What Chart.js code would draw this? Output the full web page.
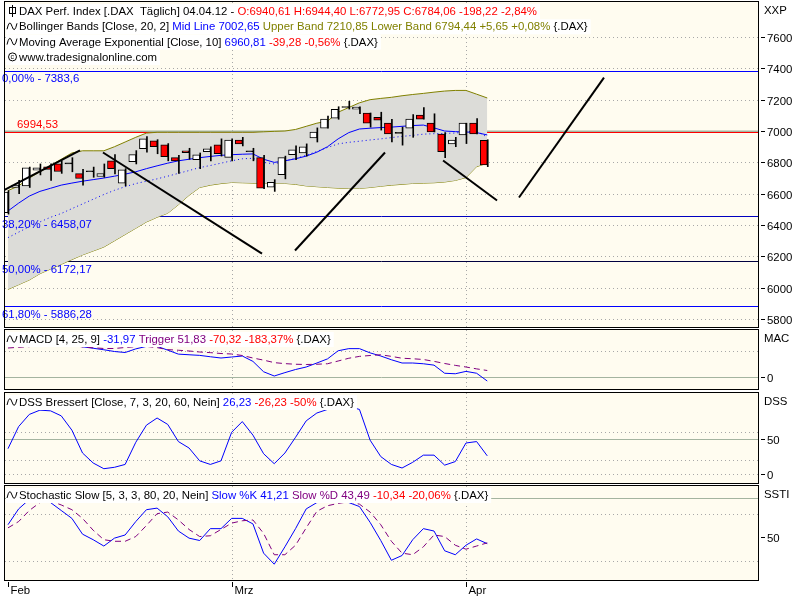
<!DOCTYPE html>
<html><head><meta charset="utf-8">
<script src="https://cdn.jsdelivr.net/npm/chart.js@4"></script>
<style>
html,body{margin:0;padding:0;background:#fff;width:800px;height:600px;overflow:hidden}
canvas{position:absolute;left:0}
</style></head><body>
<canvas id="c1" style="top:0"></canvas>
<canvas id="c2" style="top:328px"></canvas>
<canvas id="c3" style="top:391px"></canvas>
<canvas id="c4" style="top:484px"></canvas>
<script>
const openP=[6480,6640,6650,6750,6772,6790,6790,6728,6740,6710,6810,6668,6805,6888,6937,6912,6830,6874,6818,6868,6912,6832,6943,6868,6830,6642,6722,6849,6861,6956,7019,7082,7150,7140,7114,7088,7050,6985,7019,7101,7050,6981,6918,6975,7050,6940.61];
const highP=[6620,6685,6770,6790,6790,6810,6830,6755,6770,6790,6850,6760,6875,6965,6945,6920,6845,6890,6860,6900,6950,6950,6960,6890,6845,6690,6840,6905,6918,7020,7095,7155,7190,7155,7115,7120,7075,7025,7105,7150,7110,6990,6960,7050,7080,6944.40];
const lowP=[6470,6600,6640,6720,6685,6730,6740,6655,6705,6705,6727,6650,6790,6865,6855,6810,6730,6820,6760,6810,6840,6810,6905,6810,6633,6615,6695,6818,6840,6930,7019,7075,7140,7110,7025,7006,6930,6910,6960,7076,6994,6830,6900,6920,6981,6772.95];
const closeP=[6610,6655,6765,6765,6755,6742,6794,6697,6742,6728,6760,6753,6849,6950,6900,6836,6810,6862,6848,6887,6855,6943,6918,6871,6635,6672,6830,6880,6899,6994,7076,7139,7155,7152,7050,7069,6981,6990,7076,7076,6994,6868,6943,7050,6981,6784.06];
const upperBand=[6620,6650,6700,6740,6780,6820,6860,6874,6874,6874,6900,6930,6960,6987,6992,6992,6992,6992,6992,6992,6992,6992,6992,6992,6995,6998,7000,7010,7030,7050,7063,7120,7150,7180,7200,7208,7215,7225,7233,7240,7248,7255,7259,7259,7235,7210.85];
const lowerBand=[5990,6020,6050,6090,6120,6150,6180,6210,6235,6260,6300,6340,6380,6420,6450,6476,6530,6590,6640,6655,6665,6672,6670,6668,6666,6666,6666,6660,6650,6645,6640,6636,6634,6634,6640,6648,6655,6660,6666,6668,6670,6675,6685,6703,6773,6794.44];
const midLine=[6490,6540,6585,6615,6635,6655,6668,6680,6690,6700,6712,6725,6740,6760,6778,6795,6810,6820,6830,6838,6845,6849,6852,6854,6820,6800,6810,6823,6840,6865,6900,6950,6990,7013,7018,7022,7025,7030,7035,7038,7020,7000,6996,6994,6990,6975];
const emaLine=[6320,6355,6390,6420,6450,6474,6505,6535,6565,6595,6622,6645,6665,6680,6695,6712,6730,6748,6767,6780,6795,6810,6823,6826,6800,6790,6810,6825,6845,6870,6895,6918,6928,6935,6943,6950,6958,6966,6972,6980,6983,6985,6987,6995,7000,6960.81];
const macdLine=[245,272,285,299,299,297,265,242,230,218,204,196,225,245,245,215,183,178,173,162,152,160,168,125,42,8,35,60,80,112,145,210,227,227,193,168,138,112,112,106,95,30,26,45,30,-32];
const triggerLine=[232,238,243,252,262,270,258,240,234,228,228,236,243,245,235,219,214,208,200,195,188,184,172,152,135,115,107,102,100,102,106,128,150,165,172,178,165,150,146,140,125,108,93,80,65,52];
const dssLine=[36,67,84,90,89,82,62,30,16,8,10,14,45,69,79,70,46,37,19,14,19,59,74,55,29,15,30,52,75,86,91,94,95,91,48,25,14,9,17,27,27,13,18,44,46,26];
const slowK=[66,86,98,98,94,84,74,54,47,39,49,53,70,85,87,76,58,49,46,61,61,74,74,67,30,16,38,61,86,94,95,96,94,89,69,46,21,27,47,61,58,33,28,40,48,42];
const slowD=[62,70,84,94,96,91,85,74,59,47,45,45,51,65,80,82,72,60,51,52,60,68,71,72,55,28,28,40,62,83,90,93,95,92,82,66,45,30,28,38,53,51,40,35,39,43];
const priceTicks=[5800,6000,6200,6400,6600,6800,7000,7200,7400,7600];
const fibLevels=[7383.6,6458.07,6172.17,5886.28];
const fibLabels=['0,00% - 7383,6','38,20% - 6458,07','50,00% - 6172,17','61,80% - 5886,28'];
const redLevel=6994.53;
const trendLines=[[[-0.47,6620],[6.76,6876]],[[8.92,6863],[23.85,6218]],[[26.95,6238],[35.4,6863]],[[40.85,6812],[45.92,6557]],[[47.98,6576],[55.96,7341]]];
const monthIdx=[0,21,43];
const monthNames=['Feb','Mrz','Apr'];

const FONT='11.4px "Liberation Sans", Arial, sans-serif';
const CREAM='#FFFCF0';
const GRIDC='#A8A8A8';
const SOLIDC='#A4B4A0';
const X_MIN=-0.28, X_MAX=70.42;

function panelPlugin(cfg){
  return {id:'panel'+Math.random(),
    beforeDraw(ch){
      const c=ch.ctx,a=ch.chartArea;
      c.save();c.fillStyle='#fff';c.fillRect(0,0,ch.width,ch.height);
      c.fillStyle=CREAM;c.fillRect(a.left,a.top,a.right-a.left,a.bottom-a.top);
      const y=ch.scales.y,x=ch.scales.x;
      c.lineWidth=1;
      c.setLineDash([1,3]);c.strokeStyle=GRIDC;
      (cfg.dotted||[]).forEach(v=>{const p=Math.round(y.getPixelForValue(v))+0.5;c.beginPath();c.moveTo(a.left,p);c.lineTo(a.right,p);c.stroke();});
      monthIdx.slice(1).forEach(i=>{const p=Math.round(x.getPixelForValue(i))+0.5;c.beginPath();c.moveTo(p,a.top);c.lineTo(p,a.bottom);c.stroke();});
      c.setLineDash([]);
      (cfg.solid||[]).forEach(s=>{const p=Math.round(y.getPixelForValue(s[0]))+0.5;c.strokeStyle=s[1];c.lineWidth=s[2]||1;c.beginPath();c.moveTo(a.left,p);c.lineTo(a.right,p);c.stroke();});
      c.restore();
    },
    afterDraw(ch){
      const c=ch.ctx,a=ch.chartArea,y=ch.scales.y,x=ch.scales.x;
      c.save();
      c.font=FONT;c.textBaseline='middle';c.fillStyle='#000';c.strokeStyle='#000';c.lineWidth=1;
      (cfg.labels||[]).forEach(v=>{const p=Math.round(y.getPixelForValue(v))+0.5;
        c.beginPath();c.moveTo(a.right+3,p);c.lineTo(a.right+7,p);c.stroke();
        c.fillText(String(v),a.right+9,p+1);});
      if(cfg.title){c.fillText(cfg.title,a.right+6,a.top+9);}
      (cfg.texts||[]).forEach(t=>{c.fillStyle=t[3];c.fillText(t[0],t[1],y.getPixelForValue(t[2])+t[4]);});
      c.strokeStyle='#000';c.strokeRect(a.left-0.5,a.top-0.5,a.right-a.left+1,a.bottom-a.top+1);
      (cfg.legend||[]).forEach((line,li)=>{
        let xx=a.left+14,yy=a.top+9+li*15.3;
        let w=0;line.forEach(s=>w+=c.measureText(s[0]).width);
        c.fillStyle='#fff';c.fillRect(a.left+1,yy-7,w+16,15);
        const icon=cfg.icons?cfg.icons[li]:'wave';
        drawIcon(c,icon,a.left+7,yy);
        line.forEach(s=>{c.fillStyle=s[1];c.fillText(s[0],xx,yy+1);xx+=c.measureText(s[0]).width;});
      });
      if(cfg.months){
        c.fillStyle='#000';c.textBaseline='top';c.strokeStyle='#000';
        monthIdx.forEach((i,k)=>{const p=Math.round(x.getPixelForValue(i))+0.5;
          c.beginPath();c.moveTo(p,a.bottom+2);c.lineTo(p,a.bottom+7);c.stroke();
          c.fillText(monthNames[k],p+2,a.bottom+5);});
      }
      c.restore();
    }};
}
function drawIcon(c,kind,x,y){
  c.save();c.lineWidth=1;c.strokeStyle='#000';
  if(kind==='candle'){c.beginPath();c.moveTo(x+0.5,y-6);c.lineTo(x+0.5,y+6);c.stroke();c.strokeRect(x-2.5,y-3.5,6,6);}
  else if(kind==='copy'){c.beginPath();c.arc(x+0.5,y,4,0,Math.PI*2);c.stroke();c.font='7px sans-serif';c.fillStyle='#000';c.fillText('c',x-1.5,y);}
  else{c.beginPath();c.moveTo(x-5,y+3);c.quadraticCurveTo(x-2.5,y-8,x,y);c.quadraticCurveTo(x+2.5,y+8,x+5,y-3);c.stroke();}
  c.restore();
}
function xScale(){return {type:'linear',min:X_MIN,max:X_MAX,display:false,offset:false,grid:{offset:false}};}
function baseOpts(ymin,ymax,pad){
  return {responsive:false,animation:false,events:[],
    layout:{padding:pad},
    plugins:{legend:{display:false},tooltip:{enabled:false}},
    scales:{x:xScale(),y:{type:'linear',min:ymin,max:ymax,display:false}}};
}
function sizeCanvas(id,h){const e=document.getElementById(id);e.width=800;e.height=h;e.style.width='800px';e.style.height=h+'px';return e;}
const idx=openP.map((_,i)=>i);
function pts(arr){return arr.map((v,i)=>({x:i,y:v}));}
function lineDs(arr,color,dash,w){return {type:'line',data:pts(arr),borderColor:color,borderWidth:w||1,borderDash:dash||[],pointRadius:0,fill:false,tension:0};}

const bodyColors=idx.map(i=>Math.abs(closeP[i]-openP[i])<6?'#000':(closeP[i]<openP[i]?'#FF0000':'#FFFFFF'));
const mainDs=[
  {type:'line',data:pts(upperBand),borderColor:'#808000',borderWidth:1,pointRadius:0,fill:'+1',backgroundColor:'#DCDCD8',order:10},
  {type:'line',data:pts(lowerBand),borderColor:'#808000',borderWidth:1,pointRadius:0,fill:false,order:10},
  Object.assign(lineDs(midLine,'#0000FF'),{order:8}),
  Object.assign(lineDs(emaLine,'#0000FF',[1,3]),{order:8}),
  {type:'bar',data:idx.map(i=>({x:i,y:[lowP[i],highP[i]]})),backgroundColor:'#000',borderWidth:0,barThickness:1,order:3},
  {type:'bar',data:idx.map(i=>({x:i,y:[openP[i],closeP[i]]})),backgroundColor:bodyColors,borderColor:'#000',borderWidth:1,borderSkipped:false,barThickness:7,minBarLength:1,order:2},
];
trendLines.forEach(t=>mainDs.push({type:'line',data:t.map(p=>({x:p[0],y:p[1]})),borderColor:'#000',borderWidth:2,pointRadius:0,fill:false,order:0}));
const mainCfg={
  dotted:priceTicks.filter(v=>v!==7000),
  solid:[[7000,SOLIDC,2],[redLevel,'#FF0000'],[fibLevels[0],'#0000FF'],[fibLevels[1],'#0000C0'],[fibLevels[2],'#000040'],[fibLevels[3],'#0000FF']],
  labels:priceTicks,title:'XXP',
  texts:[[fibLabels[0],2,fibLevels[0],'#0000FF',8],['6994,53',17,redLevel,'#FF0000',-7],[fibLabels[1],2,fibLevels[1],'#0000FF',9],[fibLabels[2],2,fibLevels[2],'#0000FF',9],[fibLabels[3],2,fibLevels[3],'#0000FF',9]],
  icons:['candle','wave','wave','copy'],
  legend:[
    [['DAX Perf. Index [.DAX  Täglich] 04.04.12 - ','#000'],['O:6940,61 H:6944,40 L:6772,95 C:6784,06 -198,22 -2,84%','#FF0000']],
    [['Bollinger Bands [Close, 20, 2] ','#000'],['Mid Line 7002,65','#0000FF'],[' Upper Band 7210,85 Lower Band 6794,44 +5,65 +0,08%','#808000'],[' {.DAX}','#000']],
    [['Moving Average Exponential [Close, 10] ','#000'],['6960,81','#0000FF'],[' -39,28 -0,56%','#FF0000'],[' {.DAX}','#000']],
    [['www.tradesignalonline.com','#000']]
  ]};
new Chart(sizeCanvas('c1',329),{type:'bar',data:{datasets:mainDs},options:baseOpts(5750,7823,{left:5,right:42,top:2,bottom:2}),plugins:[panelPlugin(mainCfg)]});

new Chart(sizeCanvas('c2',62),{type:'line',data:{datasets:[lineDs(triggerLine,'#800080',[6,4]),lineDs(macdLine,'#0000FF')]},
  options:baseOpts(-96,376,{left:5,right:42,top:2,bottom:1}),
  plugins:[panelPlugin({dotted:[205],solid:[[0,SOLIDC]],labels:[0],title:'MAC',
    legend:[[['MACD [4, 25, 9] ','#000'],['-31,97','#0000FF'],[' Trigger 51,83','#800080'],[' -70,32 -183,37%','#FF0000'],[' {.DAX}','#000']]]})]});

new Chart(sizeCanvas('c3',93),{type:'line',data:{datasets:[lineDs(dssLine,'#0000FF')]},
  options:baseOpts(-12,114,{left:5,right:42,top:2,bottom:1}),
  plugins:[panelPlugin({dotted:[0,20,60],solid:[[50,SOLIDC]],labels:[0,50],title:'DSS',
    legend:[[['DSS Bressert [Close, 7, 3, 20, 60, Nein] ','#000'],['26,23','#0000FF'],[' -26,23 -50%','#FF0000'],[' {.DAX}','#000']]]})]});

new Chart(sizeCanvas('c4',116),{type:'line',data:{datasets:[lineDs(slowD,'#800080',[6,4]),lineDs(slowK,'#0000FF')]},
  options:baseOpts(-4,115,{left:5,right:42,top:2,bottom:20}),
  plugins:[panelPlugin({dotted:[20,80],solid:[[100,SOLIDC]],labels:[50],title:'SSTI',months:true,
    legend:[[['Stochastic Slow [5, 3, 3, 80, 20, Nein] ','#000'],['Slow %K 41,21','#0000FF'],[' Slow %D 43,49','#800080'],[' -10,34 -20,06%','#FF0000'],[' {.DAX}','#000']]]})]});
</script>
</body></html>
